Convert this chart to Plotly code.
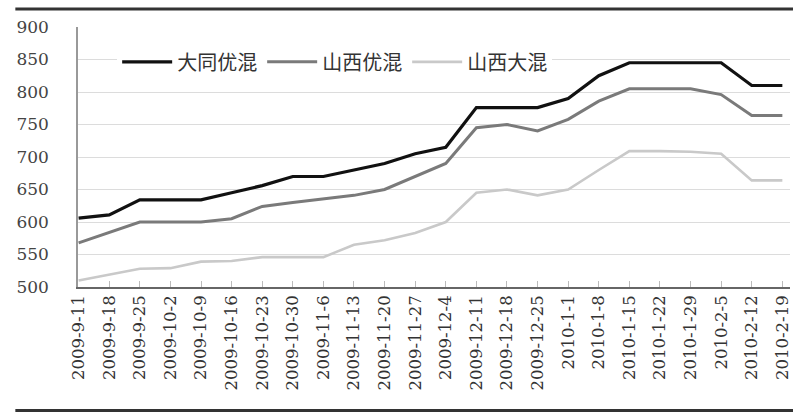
import plotly.graph_objects as go

dates = ["2009-9-11", "2009-9-18", "2009-9-25", "2009-10-2", "2009-10-9", "2009-10-16",
         "2009-10-23", "2009-10-30", "2009-11-6", "2009-11-13", "2009-11-20", "2009-11-27",
         "2009-12-4", "2009-12-11", "2009-12-18", "2009-12-25", "2010-1-1", "2010-1-8",
         "2010-1-15", "2010-1-22", "2010-1-29", "2010-2-5", "2010-2-12", "2010-2-19"]

datong_youhun = [606, 611, 634, 634, 634, 645, 656, 670, 670, 680, 690, 705,
                 715, 776, 776, 776, 790, 825, 845, 845, 845, 845, 810, 810]
shanxi_youhun = [568, 584, 600, 600, 600, 605, 624, 630, 635, 641, 650, 670,
                 690, 745, 750, 740, 758, 786, 805, 805, 805, 796, 764, 764]
shanxi_dahun = [510, 519, 528, 529, 539, 540, 546, 546, 546, 565, 572, 583,
                600, 645, 650, 641, 650, 680, 709, 709, 708, 705, 664, 664]

series_names = ["大同优混", "山西优混", "山西大混"]
y_ticks = [500, 550, 600, 650, 700, 750, 800, 850, 900]

colors = ["#111111", "#7a7a7a", "#c9c9c9"]
widths = [3.2, 3.0, 2.6]

fig = go.Figure()
for name, vals, c, w in zip(series_names, [datong_youhun, shanxi_youhun, shanxi_dahun], colors, widths):
    fig.add_trace(go.Scatter(x=dates, y=vals, mode="lines", name=name,
                             line=dict(color=c, width=w)))

serif = "DejaVu Serif"
fig.update_layout(
    width=793, height=417,
    margin=dict(l=78, r=3, t=27, b=130, autoexpand=False),
    paper_bgcolor="white", plot_bgcolor="white",
    showlegend=True,
    legend=dict(orientation="h", x=0.055, y=0.866, xanchor="left", yanchor="middle",
                bgcolor="white", font=dict(family="Noto Sans CJK SC", size=20, color="#333"),
                itemwidth=50, traceorder="normal"),
    xaxis=dict(type="category", range=[-0.02, 23.25], showgrid=False, automargin=False,
               tickangle=-90, tickfont=dict(family=serif, size=16.5, color="#333"),
               showline=True, linecolor="#666", linewidth=1.5,
               ticks="inside", ticklen=6, tickcolor="#bbb"),
    yaxis=dict(range=[500, 900], tickvals=y_ticks, showgrid=True, gridcolor="#dcdcdc",
               gridwidth=1, zeroline=False, showline=True, linecolor="#999", linewidth=1.5,
               automargin=False,
               tickfont=dict(family=serif, size=17, color="#444"), ticklabelstandoff=24),
    shapes=[
        dict(type="line", xref="paper", yref="paper", x0=-0.088, x1=1.01, y0=1.069, y1=1.069,
             line=dict(color="#333", width=3)),
        dict(type="line", xref="paper", yref="paper", x0=-0.088, x1=1.01, y0=-0.475, y1=-0.475,
             line=dict(color="#333", width=3)),
    ],
)

fig.write_html("out.html")
